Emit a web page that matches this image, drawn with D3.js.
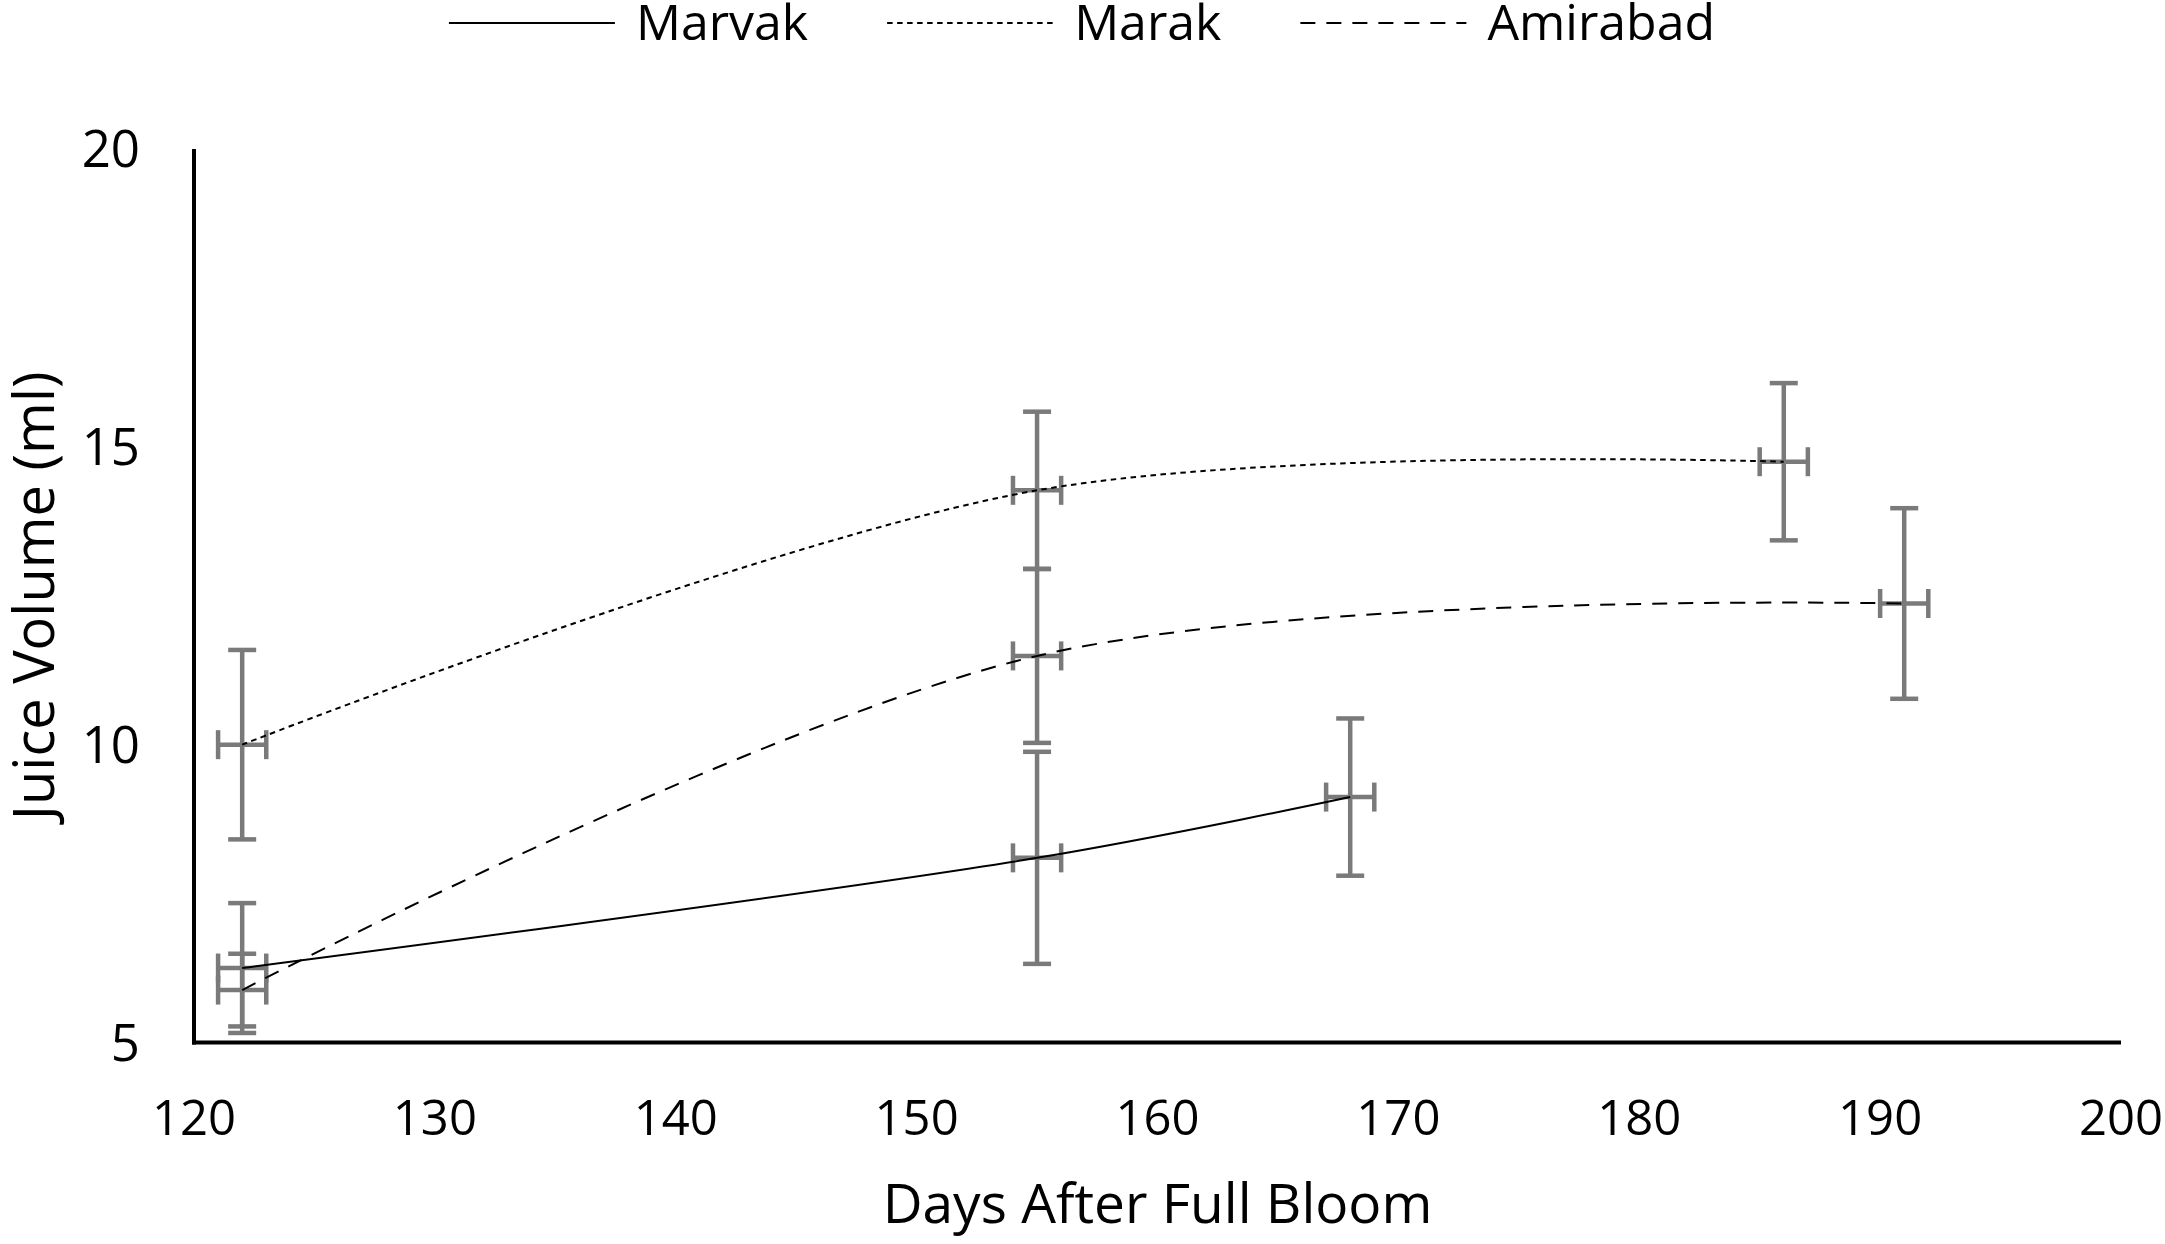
<!DOCTYPE html>
<html>
<head>
<meta charset="utf-8">
<script src="https://cdn.jsdelivr.net/npm/d3@7"></script>
<style>
  html, body { margin: 0; padding: 0; background: #fff; }
  svg { display: block; }
  text { font-family: "Open Sans", "Noto Sans", sans-serif; fill: #000; }
</style>
</head>
<body>
<svg id="chart" width="2165" height="1244"></svg>
<script>
// ---- data ----
const seriesNames = ["Marvak", "Marak", "Amirabad"];
const marvakDays = [122, 155, 168];
const marvakVolume = [6.25, 8.1, 9.12];
const marvakErrY = [1.09, 1.78, 1.32];
const marakDays = [122, 155, 186];
const marakVolume = [10.0, 14.27, 14.75];
const marakErrY = [1.59, 1.32, 1.32];
const amirabadDays = [122, 155, 191];
const amirabadVolume = [5.88, 11.49, 12.37];
const amirabadErrY = [0.61, 1.46, 1.6];
const errX = [1, 1, 1];
const xTicks = [120, 130, 140, 150, 160, 170, 180, 190, 200];
const yTicks = [5, 10, 15, 20];
const xTitle = "Days After Full Bloom";
const yTitle = "Juice Volume (ml)";

const series = [
  { name: seriesNames[0], days: marvakDays, vals: marvakVolume, ey: marvakErrY, dash: null },
  { name: seriesNames[1], days: marakDays, vals: marakVolume, ey: marakErrY, dash: "5.5,4.5" },
  { name: seriesNames[2], days: amirabadDays, vals: amirabadVolume, ey: amirabadErrY, dash: "15,11" }
];

// ---- layout ----
const svg = d3.select("#chart");
const x = d3.scaleLinear().domain([120, 200]).range([194, 2121]);
const y = d3.scaleLinear().domain([5, 20]).range([1042.5, 149]);
const errColor = "#7a7a7a";

// axes lines
svg.append("line").attr("x1", x(120)).attr("x2", x(120)).attr("y1", y(20)).attr("y2", y(5) + 2)
  .attr("stroke", "#000").attr("stroke-width", 4);
svg.append("line").attr("x1", x(120) - 2).attr("x2", x(200)).attr("y1", y(5)).attr("y2", y(5))
  .attr("stroke", "#000").attr("stroke-width", 4);

// tick labels
svg.append("g").selectAll("text").data(xTicks).join("text")
  .attr("x", d => x(d)).attr("y", 1135).attr("text-anchor", "middle")
  .attr("font-size", 49).text(d => d);
svg.append("g").selectAll("text").data(yTicks).join("text")
  .attr("x", 140).attr("y", d => y(d)).attr("dy", "0.36em").attr("text-anchor", "end")
  .attr("font-size", 51).text(d => d);

// axis titles
svg.append("text").attr("x", (x(120) + x(200)) / 2).attr("y", 1223).attr("text-anchor", "middle")
  .attr("font-size", 55).text(xTitle);
svg.append("text").attr("transform", `translate(54,${(y(5) + y(20)) / 2}) rotate(-90)`)
  .attr("text-anchor", "middle").attr("font-size", 56).text(yTitle);

// error bars
const capV = 14, capH = 14.5;
const eg = svg.append("g").attr("stroke", errColor).attr("stroke-width", 4.5).attr("fill", "none");
series.forEach(s => {
  s.days.forEach((d, i) => {
    const cx = x(d), cy = y(s.vals[i]);
    const y0 = y(s.vals[i] - s.ey[i]), y1 = y(s.vals[i] + s.ey[i]);
    const x0 = x(d - errX[i]), x1 = x(d + errX[i]);
    eg.append("line").attr("x1", cx).attr("x2", cx).attr("y1", y0).attr("y2", y1);
    eg.append("line").attr("x1", cx - capV).attr("x2", cx + capV).attr("y1", y0).attr("y2", y0);
    eg.append("line").attr("x1", cx - capV).attr("x2", cx + capV).attr("y1", y1).attr("y2", y1);
    eg.append("line").attr("x1", x0).attr("x2", x1).attr("y1", cy).attr("y2", cy);
    eg.append("line").attr("x1", x0).attr("x2", x0).attr("y1", cy - capH).attr("y2", cy + capH);
    eg.append("line").attr("x1", x1).attr("x2", x1).attr("y1", cy - capH).attr("y2", cy + capH);
  });
});

// lines
const line = d3.line().x(p => x(p[0])).y(p => y(p[1])).curve(d3.curveCatmullRom.alpha(0.5));
series.forEach(s => {
  svg.append("path").datum(s.days.map((d, i) => [d, s.vals[i]]))
    .attr("d", line).attr("fill", "none").attr("stroke", "#000").attr("stroke-width", 2)
    .attr("stroke-dasharray", s.dash);
});

// legend
const lg = svg.append("g");
const lineLen = 166, gapText = 21, gapItem = 79;
let cursor = 0;
series.forEach(s => {
  const item = lg.append("g");
  item.append("line").attr("x1", cursor).attr("x2", cursor + lineLen).attr("y1", 23).attr("y2", 23)
    .attr("stroke", "#000").attr("stroke-width", 2).attr("stroke-dasharray", s.dash);
  const t = item.append("text").attr("x", cursor + lineLen + gapText).attr("y", 40)
    .attr("font-size", 50).text(s.name);
  cursor += lineLen + gapText + t.node().getComputedTextLength() + gapItem;
});
const total = cursor - gapItem;
lg.attr("transform", `translate(${1082 - total / 2},0)`);
</script>
</body>
</html>
